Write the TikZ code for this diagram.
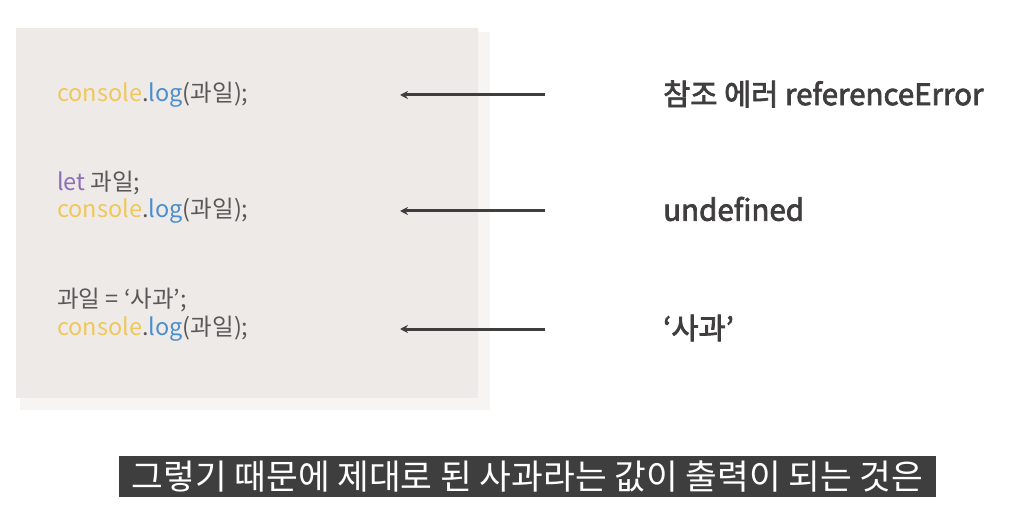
\documentclass[tikz,border=0pt]{standalone}
\usepackage{fontspec}
\setmainfont{Noto Sans CJK KR}
\newfontfamily\resultfont[RawFeature={embolden=2.5}]{Noto Sans CJK KR}
\usetikzlibrary{positioning,arrows.meta}

\definecolor{panelgray}{HTML}{EEEAE7}
\definecolor{shadowgray}{HTML}{F7F5F4}
\definecolor{codegray}{HTML}{5A5756}
\definecolor{consoleyellow}{HTML}{F0C75A}
\definecolor{logblue}{HTML}{4A8ED0}
\definecolor{letpurple}{HTML}{8C6DB8}
\definecolor{arrowgray}{HTML}{3F3D3D}
\definecolor{subbox}{HTML}{3E3E3E}

\newcommand{\conslog}{\textcolor{consoleyellow}{console}.\textcolor{logblue}{log}(과일);}

\begin{document}
\begin{tikzpicture}[x=1pt, y=-1pt,
    code/.style={anchor=west, inner sep=0pt, text=codegray, font=\fontsize{23.5}{26}\selectfont},
    result/.style={anchor=west, inner sep=0pt, text=arrowgray, font=\fontsize{29.5}{32}\resultfont},
    back/.style={-{Stealth[length=8pt,width=8pt]}, line width=3pt, draw=arrowgray}]
        \useasboundingbox[fill=white] (0,0) rectangle (1018,505);
        % Panel
        \fill[shadowgray] (20,32) rectangle (490,410);
        \fill[panelgray] (16,28) rectangle (478,398);

        % Code lines
        \node (c1) [code] at (57,95) {\conslog};
        \node (l2) [code] at (57,183) {\textcolor{letpurple}{let} 과일;};
        \node (c2) [code] at (57,211) {\conslog};
        \node (l3) [code] at (57,300) {과일 = ‘사과’;};
        \node (c3) [code] at (57,329) {\conslog};

        % Results
        \node (r1) [result] at (663,94) {참조 에러 referenceError};
        \node (r2) [result] at (663,209) {undefined};
        \node (r3) [result] at (663,328) {‘사과’};

        % Arrows
        \coordinate (s1) at (545,95);
        \coordinate (e1) at (400,95);
        \coordinate (s2) at (545,211);
        \coordinate (e2) at (400,211);
        \coordinate (s3) at (545,329);
        \coordinate (e3) at (400,329);
        \draw[back] (s1) -- (e1);
        \draw[back] (s2) -- (e2);
        \draw[back] (s3) -- (e3);

        % Subtitle
        \node (sub) [fill=subbox, text=white, minimum width=817pt, minimum height=41pt, inner sep=0pt,
            font=\fontsize{34.5}{37}\selectfont] at (527.5,476.5) {그렇기 때문에 제대로 된 사과라는 값이 출력이 되는 것은};
    \end{tikzpicture}
\end{document}
